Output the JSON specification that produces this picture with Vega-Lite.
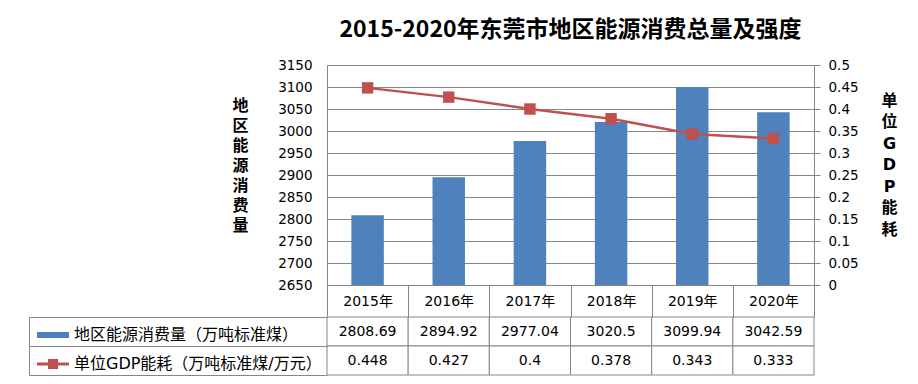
{
  "$schema": "https://vega.github.io/schema/vega-lite/v6.json",
  "padding": {"left": 28, "top": 19, "right": 5, "bottom": 5},
  "background": "white",
  "data": {"values": [
    {"year": "2015年", "energy": 2808.69, "intensity": 0.448},
    {"year": "2016年", "energy": 2894.92, "intensity": 0.427},
    {"year": "2017年", "energy": 2977.04, "intensity": 0.4},
    {"year": "2018年", "energy": 3020.5, "intensity": 0.378},
    {"year": "2019年", "energy": 3099.94, "intensity": 0.343},
    {"year": "2020年", "energy": 3042.59, "intensity": 0.333}
  ]},
  "config": {
    "font": "DejaVu Sans, Noto Sans CJK SC",
    "view": {"stroke": null},
    "axis": {
      "labelColor": "#000", "titleColor": "#000",
      "domainColor": "#868686", "tickColor": "#868686", "gridColor": "#868686",
      "labelFont": "DejaVu Sans, Noto Sans CJK SC", "labelFontSize": 13.5,
      "titleFont": "DejaVu Sans, Noto Sans CJK SC"
    }
  },
  "bounds": "flush",
  "spacing": 32,
  "vconcat": [
    {
      "width": 487,
      "height": 220,
      "title": {"text": "2015-2020年东莞市地区能源消费总量及强度", "font": "Noto Sans CJK SC", "fontSize": 23, "fontWeight": "bold", "color": "#000", "anchor": "middle", "offset": 16},
      "encoding": {
        "x": {"field": "year", "type": "nominal", "sort": null,
          "scale": {"paddingInner": 0.6, "paddingOuter": 0.3},
          "axis": {"title": null, "labels": false, "ticks": false, "domain": true}}
      },
      "layer": [
        {
          "mark": {"type": "bar"},
          "encoding": {
            "y": {"field": "energy", "type": "quantitative",
              "scale": {"domain": [2650, 3150], "zero": false, "nice": false},
              "axis": {"orient": "left", "values": [2650, 2700, 2750, 2800, 2850, 2900, 2950, 3000, 3050, 3100, 3150],
                "format": "d", "grid": true, "ticks": false, "labelPadding": 15,
                "title": ["地", "区", "能", "源", "消", "费", "量"],
                "titleAngle": 0, "titleAlign": "center", "titleBaseline": "middle",
                "titleX": -87, "titleY": 40, "titleFontSize": 16, "titleFontWeight": "bold", "titleLineHeight": 20}},
            "y2": {"datum": 2650},
            "color": {"datum": "地区能源消费量（万吨标准煤）", "type": "nominal",
              "scale": {"domain": ["地区能源消费量（万吨标准煤）", "单位GDP能耗（万吨标准煤/万元）"], "range": ["#4F81BD", "#C0504D"]},
              "legend": {
                "orient": "none", "legendX": -282, "legendY": 262, "title": null,
                "labelFontSize": 16, "labelColor": "#000", "labelLimit": 500,
                "symbolSize": 100, "labelOffset": 13, "rowPadding": 13, "padding": 0,
                "encode": {"symbols": {"update": {
                  "shape": {"signal": "datum.index == 0 ? 'M-3.2,-0.6H3.2V0.6H-3.2Z' : 'M-3.2,-0.3H3.2V0.3H-3.2Z M-1,-1H1V1H-1Z'"},
                  "fill": {"signal": "datum.index == 0 ? '#4F81BD' : '#C0504D'"},
                  "stroke": {"value": "transparent"},
                  "strokeWidth": {"value": 0},
                  "opacity": {"value": 1}
                }}}
              }}
          }
        },
        {
          "mark": {"type": "line", "strokeWidth": 2.5, "point": {"shape": "square", "size": 130, "filled": true, "opacity": 1}},
          "encoding": {
            "y": {"field": "intensity", "type": "quantitative",
              "scale": {"domain": [0, 0.5], "nice": false},
              "axis": {"orient": "right", "values": [0, 0.05, 0.1, 0.15, 0.2, 0.25, 0.3, 0.35, 0.4, 0.45, 0.5],
                "format": "~g", "grid": false, "tickSize": 6, "labelPadding": 8,
                "title": ["单", "位", "G", "D", "P", "能", "耗"],
                "titleAngle": 0, "titleAlign": "center", "titleBaseline": "middle",
                "titleX": 75, "titleY": 35, "titleFontSize": 16, "titleFontWeight": "bold", "titleLineHeight": 21.5}},
            "color": {"datum": "单位GDP能耗（万吨标准煤/万元）", "type": "nominal"}
          }
        }
      ],
      "resolve": {"scale": {"y": "independent"}}
    },
    {
      "width": 487,
      "height": 58,
      "transform": [{"fold": ["energy", "intensity"], "as": ["row", "value"]}],
      "encoding": {
        "x": {"field": "year", "type": "nominal", "sort": null,
          "scale": {"paddingInner": 0, "paddingOuter": 0},
          "axis": {"orient": "top", "title": null, "domain": false, "tickBand": "extent", "tickSize": 32,
            "labelPadding": -16, "labelBaseline": "middle", "labelAngle": 0, "labelFontSize": 14}},
        "y": {"field": "row", "type": "nominal",
          "scale": {"domain": ["energy", "intensity"], "paddingInner": 0, "paddingOuter": 0},
          "axis": {"orient": "left", "title": null, "labels": false, "domain": true, "offset": 298,
            "tickBand": "extent", "tickSize": -298}}
      },
      "layer": [
        {"mark": {"type": "rect", "fill": "white", "stroke": "#868686", "strokeWidth": 1}},
        {"mark": {"type": "text", "fontSize": 14, "color": "#000"},
          "encoding": {"text": {"field": "value", "type": "nominal"}}}
      ]
    }
  ]
}
